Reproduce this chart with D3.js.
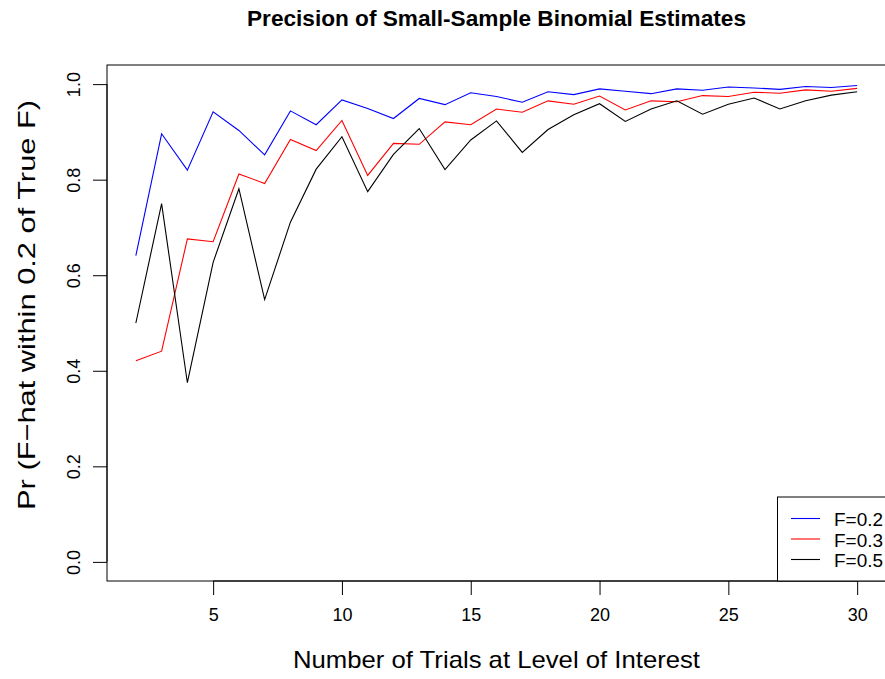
<!DOCTYPE html>
<html><head><meta charset="utf-8">
<script src="https://cdn.jsdelivr.net/npm/d3@7"></script>
<style>
html,body{margin:0;padding:0;background:#fff;}
svg{display:block;font-family:"Liberation Sans",Arial,Helvetica,sans-serif;}
</style></head>
<body>
<svg id="chart" width="885" height="679"></svg>
<script>
const trials = d3.range(2, 31);
const f02 = [0.641,0.896,0.820,0.942,0.903,0.852,0.944,0.915,0.967,0.949,0.928,0.970,0.957,0.982,0.974,0.962,0.984,0.978,0.990,0.985,0.980,0.990,0.987,0.994,0.992,0.989,0.995,0.993,0.997];
const f03 = [0.421,0.441,0.676,0.670,0.812,0.792,0.884,0.861,0.924,0.809,0.876,0.874,0.921,0.915,0.948,0.941,0.965,0.958,0.975,0.946,0.965,0.963,0.976,0.974,0.983,0.981,0.988,0.985,0.991];
const f05 = [0.500,0.750,0.375,0.627,0.781,0.549,0.711,0.822,0.890,0.775,0.853,0.907,0.821,0.883,0.923,0.857,0.905,0.936,0.959,0.922,0.948,0.965,0.937,0.958,0.971,0.948,0.965,0.977,0.984];
const seriesNames = ["F=0.2","F=0.3","F=0.5"];
const seriesColors = ["#0000ff","#ff0000","#000000"];
const xTicks = [5,10,15,20,25,30];
const yTicks = [0,0.2,0.4,0.6,0.8,1.0];

const svg = d3.select("#chart");
const L = 107, R = 886, T = 65, B = 581;
const xPad = (30-2)*0.04, yPad = 0.04;
const x = d3.scaleLinear().domain([2-xPad, 30+xPad]).range([L, R]);
const y = d3.scaleLinear().domain([0-yPad, 1+yPad]).range([B, T]);

// lines
const seriesData = [f02, f03, f05];
const line = d3.line().x((d,i)=>x(trials[i])).y(d=>y(d));
seriesData.forEach((s,k)=>{
  svg.append("path").datum(s).attr("d", line)
    .attr("fill","none").attr("stroke", seriesColors[k]).attr("stroke-width",1.1);
});

// axes
const xAxis = d3.axisBottom(x).tickValues(xTicks).tickSize(14).tickPadding(13).tickFormat(d3.format("d"));
const gx = svg.append("g").attr("transform",`translate(0,${B})`).call(xAxis);
gx.select(".domain").attr("d", `M${x(5)},0H${x(30)}`).attr("stroke","#000");
gx.selectAll("text").attr("font-size",18).attr("fill","#000").attr("font-family","Liberation Sans, Arial, sans-serif");
gx.selectAll("line").attr("stroke","#000");

const yAxis = d3.axisLeft(y).tickValues(yTicks).tickSize(14).tickPadding(0).tickFormat(d3.format(".1f"));
const gy = svg.append("g").attr("transform",`translate(${L},0)`).call(yAxis);
gy.select(".domain").attr("d", `M0,${y(0)}V${y(1)}`).attr("stroke","#000");
gy.selectAll("line").attr("stroke","#000");
gy.selectAll("text").attr("font-size",18).attr("fill","#000")
  .attr("font-family","Liberation Sans, Arial, sans-serif")
  .attr("text-anchor","middle").attr("x",null).attr("dy",null)
  .attr("transform","translate(-27,0) rotate(-90)");

// box
svg.append("rect").attr("x",L).attr("y",T).attr("width",R-L).attr("height",B-T)
  .attr("fill","none").attr("stroke","#000").attr("stroke-width",1);

// title & labels
svg.append("text").attr("x",(L+R)/2).attr("y",26).attr("text-anchor","middle")
  .attr("font-size",21.5).attr("font-weight","bold")
  .attr("textLength",499).attr("lengthAdjust","spacingAndGlyphs")
  .text("Precision of Small-Sample Binomial Estimates");
svg.append("text").attr("x",(L+R)/2).attr("y",668).attr("text-anchor","middle")
  .attr("font-size",24).attr("textLength",407).attr("lengthAdjust","spacingAndGlyphs")
  .text("Number of Trials at Level of Interest");
svg.append("text").attr("transform",`translate(35,305) rotate(-90)`).attr("text-anchor","middle")
  .attr("font-size",24).attr("textLength",410).attr("lengthAdjust","spacingAndGlyphs")
  .text("Pr (F\u2212hat within 0.2 of True  F)");

// legend
const lg = svg.append("g");
lg.append("rect").attr("x",777.5).attr("y",497).attr("width",140).attr("height",B-497)
  .attr("fill","#fff").attr("stroke","#000");
seriesNames.forEach((n,k)=>{
  const yy = 518.5 + k*20.5;
  lg.append("line").attr("x1",791).attr("x2",820).attr("y1",yy).attr("y2",yy)
    .attr("stroke",seriesColors[k]).attr("stroke-width",1.1);
  lg.append("text").attr("x",834).attr("y",yy+7.5).attr("font-size",17.5)
    .attr("textLength",49).attr("lengthAdjust","spacingAndGlyphs").text(n);
});
</script>
</body></html>
